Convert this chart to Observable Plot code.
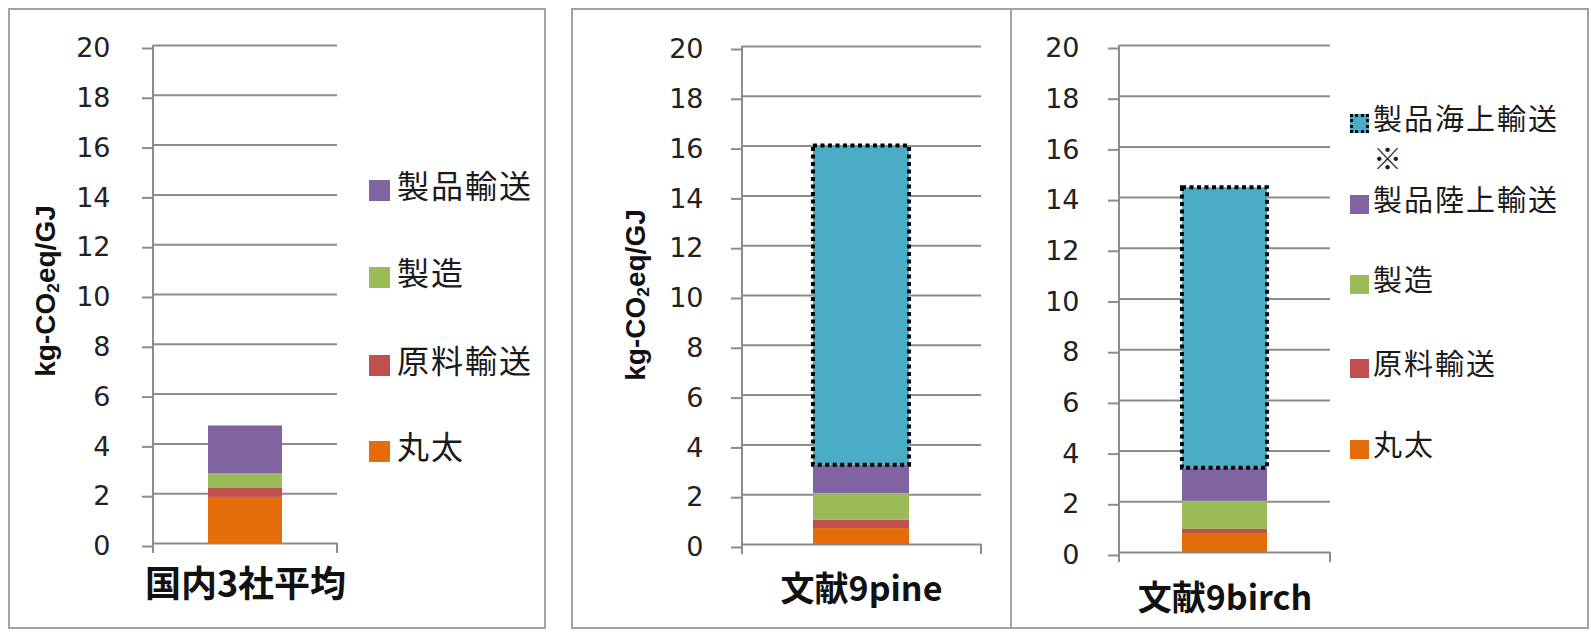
<!DOCTYPE html>
<html>
<head>
<meta charset="utf-8">
<script src="https://cdn.jsdelivr.net/npm/d3@7"></script>
<script src="https://cdn.jsdelivr.net/npm/@observablehq/plot@0.6"></script>
<style>
  body { margin: 0; background: #fff; }
  #page { position: relative; width: 1591px; height: 632px; overflow: hidden; font-family: "Noto Sans CJK JP", sans-serif; }
  .box { position: absolute; border: 2px solid #a3a3a3; box-sizing: border-box; }
  .divider { position: absolute; width: 2px; background: #a3a3a3; }
  .chart { position: absolute; left: 0; top: 0; }
  .ytitle { position: absolute; transform: translate(-50%, -50%) rotate(-90deg); font: bold 28px "Liberation Sans", Arial, sans-serif; white-space: nowrap; color: #111; }
  .ytitle sub { font-size: 0.62em; vertical-align: -0.18em; }
  .swatch { position: absolute; box-sizing: border-box; }
  .ltext { position: absolute; color: #1a1a1a; white-space: normal; word-break: break-all; }
</style>
</head>
<body>
<div id="page"></div>
<script>
// Categories and stacked components
const categories = ["国内3社平均", "文献9pine", "文献9birch"];
const domesticParts = ["丸太", "原料輸送", "製造", "製品輸送"];
const importParts = ["丸太", "原料輸送", "製造", "製品陸上輸送", "製品海上輸送※"];
const seaPart = "製品海上輸送※";

// kg-CO2eq/GJ per component, bottom to top
const domesticValues = [1.85, 0.36, 0.6, 1.91];
const pineValues = [0.64, 0.33, 1.08, 1.13, 12.82];
const birchValues = [0.75, 0.16, 1.11, 1.3, 11.07];

const domesticColors = ["#E46C0A", "#C0504D", "#9BBB59", "#8064A2"];
const importColors = ["#E46C0A", "#C0504D", "#9BBB59", "#8064A2", "#4BACC6"];

const yTicks = [0, 2, 4, 6, 8, 10, 12, 14, 16, 18, 20];

const page = document.getElementById("page");
const W = 1591, H = 632;
const gridColor = "#8c8c8c";

function rowsFor(category, parts, values) {
  return parts.map((part, i) => ({category, part, value: values[i]}));
}

function panel({rows, parts, colors, left, right, top, bottom, tickPadding, labelPadding, labelSize}) {
  const chart = Plot.plot({
    width: W,
    height: H,
    marginLeft: left,
    marginRight: W - right,
    marginTop: top,
    marginBottom: H - bottom,
    style: {background: "transparent", fontFamily: "'DejaVu Sans', sans-serif", overflow: "visible"},
    x: {domain: [rows[0].category], padding: 0.425},
    y: {domain: [0, 20]},
    color: {domain: parts, range: colors},
    marks: [
      Plot.gridY(yTicks, {stroke: gridColor, strokeOpacity: 1, strokeWidth: 2}),
      Plot.axisY({ticks: yTicks, tickSize: 11, tickPadding, stroke: gridColor, strokeWidth: 2,
                  fill: "#222", fontSize: 27, dy: 3, label: null}),
      Plot.axisX({tickSize: 0, tickPadding: labelPadding, fontSize: labelSize, fontWeight: "bold",
                  fontFamily: "'Noto Sans CJK JP', sans-serif", fill: "#111", label: null}),
      Plot.barY(rows, {x: "category", y: "value", z: "part", fill: "part", order: parts}),
      Plot.barY(rows, {x: "category", y: "value", z: "part", order: parts, fill: "none",
                       stroke: "#000", strokeOpacity: d => d.part === seaPart ? 1 : 0,
                       strokeWidth: 4, strokeDasharray: "4 3.5"})
    ]
  });
  // axis line with a short tail below zero, and the closing tick at the right end
  const x = chart.scale("x"), y = chart.scale("y");
  const [x0, x1] = x.range;
  const y0 = y.apply(0), yTop = y.apply(20);
  const svg = d3.select(chart);
  svg.append("line").attr("x1", x0).attr("x2", x0).attr("y1", yTop).attr("y2", y0 + 10)
    .attr("stroke", gridColor).attr("stroke-width", 2);
  svg.append("line").attr("x1", x1).attr("x2", x1).attr("y1", y0).attr("y2", y0 + 10)
    .attr("stroke", gridColor).attr("stroke-width", 2);
  chart.classList.add("chart");
  page.appendChild(chart);
}

function legend({parts, colors, centers, sx, size, tx, fontSize, spacing, textWidth}) {
  const order = parts.map((p, i) => i).reverse();
  order.forEach((i, k) => {
    const c = centers[k];
    const sw = document.createElement("div");
    sw.className = "swatch";
    Object.assign(sw.style, {left: sx + "px", top: (c - size / 2) + "px", width: size + "px", height: size + "px", background: colors[i]});
    if (parts[i] === seaPart) sw.style.border = "3px dotted #000";
    page.appendChild(sw);
    const t = document.createElement("div");
    t.className = "ltext";
    t.textContent = parts[i];
    Object.assign(t.style, {left: tx + "px", top: (c - 6 - 20) + "px", lineHeight: "40px",
      fontSize: fontSize + "px", letterSpacing: spacing + "px", width: textWidth + "px"});
    page.appendChild(t);
  });
}

function box(l, t, r, b) {
  const d = document.createElement("div");
  d.className = "box";
  Object.assign(d.style, {left: l + "px", top: t + "px", width: (r - l) + "px", height: (b - t) + "px"});
  page.appendChild(d);
}

function ytitle(cx, cy) {
  const d = document.createElement("div");
  d.className = "ytitle";
  d.innerHTML = "kg-CO<sub>2</sub>eq/GJ";
  Object.assign(d.style, {left: cx + "px", top: cy + "px"});
  page.appendChild(d);
}

// frames
box(8, 8, 546, 629);
box(571, 8, 1589, 629);
const div = document.createElement("div");
div.className = "divider";
Object.assign(div.style, {left: "1010px", top: "8px", height: "621px"});
page.appendChild(div);

panel({rows: rowsFor(categories[0], domesticParts, domesticValues), parts: domesticParts, colors: domesticColors,
       left: 153, right: 337, top: 45, bottom: 543, tickPadding: 32, labelPadding: 28, labelSize: 36});
panel({rows: rowsFor(categories[1], importParts, pineValues), parts: importParts, colors: importColors,
       left: 742, right: 981, top: 46, bottom: 544, tickPadding: 28, labelPadding: 32, labelSize: 34});
panel({rows: rowsFor(categories[2], importParts, birchValues), parts: importParts, colors: importColors,
       left: 1119, right: 1330, top: 45, bottom: 552, tickPadding: 29, labelPadding: 33, labelSize: 34});

ytitle(47, 291);
ytitle(637, 295);

legend({parts: domesticParts, colors: domesticColors, centers: [190, 277, 365, 451],
        sx: 369, size: 21, tx: 397, fontSize: 32, spacing: 2, textWidth: 150});
legend({parts: importParts, colors: importColors, centers: [123, 204, 284, 368, 449],
        sx: 1350, size: 19, tx: 1373, fontSize: 29, spacing: 2, textWidth: 200});
</script>
</body>
</html>
